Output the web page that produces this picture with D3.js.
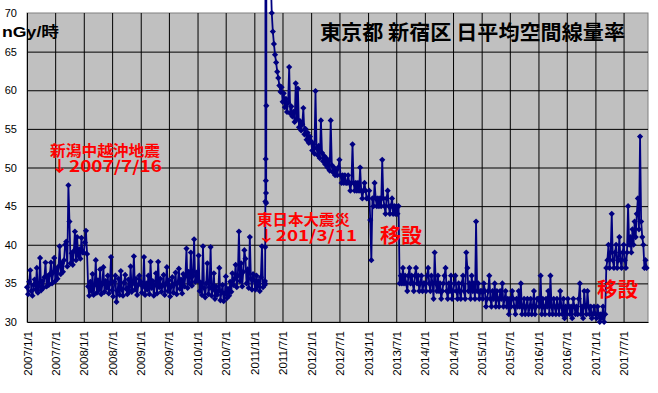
<!DOCTYPE html>
<head>
    <meta charset="utf-8">
    <style>
        body { margin: 0; background: #fff; }
    </style>
</head>
<body>
    <div id="graph"></div>
    <script src="https://d3js.org/d3.v7.min.js"></script>
    <script>
        // 週ごとの読み取り値 (nGy/時)。各年 1/1 から 7 日おき
        const v2007 = [34.5, 33.6, 35.2, 36.7, 34.0, 33.4, 34.8, 35.5, 34.2, 37.0, 33.8, 34.6, 38.3, 34.1, 35.3, 34.4, 35.8, 37.7, 34.6, 35.9, 34.8, 36.2, 37.7, 35.0, 36.4, 38.3, 35.3, 36.8, 35.6, 37.2, 39.8, 36.2, 37.6, 36.5, 38.0, 40.0, 40.4, 37.2, 47.7, 43.0, 37.6, 38.9, 37.4, 39.2, 41.7, 38.0, 41.0, 38.6, 39.4, 38.2, 40.9, 39.0];
        const v2008 = [39.0, 40.3, 41.8, 38.8, 34.6, 33.4, 35.2, 34.0, 36.2, 33.5, 34.8, 38.0, 33.8, 35.4, 34.2, 36.8, 33.6, 34.9, 37.1, 33.9, 35.3, 34.4, 36.0, 33.7, 35.0, 38.4, 34.1, 33.3, 35.2, 36.0, 32.6, 34.0, 35.6, 33.5, 36.6, 34.2, 33.4, 35.1, 36.1, 34.3, 33.6, 35.5, 34.0, 37.2, 33.9, 35.0, 38.5, 34.2, 35.6, 33.5, 34.8, 36.0];
        const v2009 = [35.2, 33.8, 34.6, 38.4, 33.5, 35.0, 34.2, 36.0, 33.6, 37.8, 34.4, 35.3, 33.4, 34.8, 36.3, 33.7, 37.8, 34.5, 35.6, 33.9, 34.7, 36.1, 33.5, 34.9, 37.1, 34.0, 35.4, 33.3, 34.6, 35.8, 33.8, 34.9, 36.4, 33.6, 35.1, 36.9, 34.3, 35.5, 33.7, 36.2, 34.6, 35.9, 39.5, 34.4, 36.5, 35.0, 39.0, 34.7, 36.0, 40.7, 35.2, 36.4];
        const v2010 = [35.4, 38.6, 34.0, 35.1, 33.5, 39.8, 34.4, 33.2, 35.0, 37.6, 33.6, 34.5, 39.7, 33.4, 34.2, 36.3, 33.0, 34.6, 33.5, 34.0, 37.0, 32.8, 33.9, 34.8, 32.7, 33.6, 35.9, 33.1, 34.3, 33.4, 35.2, 33.9, 36.3, 34.8, 35.6, 37.4, 34.5, 36.0, 41.7, 35.3, 37.6, 34.6, 36.5, 39.3, 38.2, 35.0, 36.8, 34.4, 41.0, 35.6, 34.2, 36.2];
        const v2011a = [35.4, 34.2, 36.0, 34.6, 35.3, 34.0, 35.8, 39.8, 34.5, 35.0];
        // 東日本大震災前後は日ごと (2011/3/9 から)
        const quakeDaily = [34.8, 35.3, 35.0, 39.7, 45.6, 130, 51.1, 48.3, 46.7, 45.4, 58, 160, 220, 170, 140, 125, 112];
        // 2011/3/26 から 7 日おき
        const v2011b = [105, 92, 82, 75, 70.0, 67.6, 66.0, 64.6, 63.6, 62.4, 61.6, 60.6, 59.8, 60.4, 58.5, 59.6, 57.8, 58.9, 57.2, 58.4, 63.0, 57.0, 57.9, 56.6, 57.2, 55.9, 60.9, 56.3, 60.2, 55.2, 56.0, 54.8, 55.6, 57.7, 54.3, 55.0, 53.6, 54.5, 53.2, 54.0];
        const v2012 = [53.4, 52.2, 53.0, 51.8, 59.9, 52.5, 51.6, 52.8, 51.2, 56.1, 51.9, 50.8, 51.5, 50.4, 51.2, 50.0, 50.8, 49.6, 56.1, 50.3, 49.4, 50.0, 49, 49.7, 49, 50, 51, 49, 48, 49, 48, 49, 48, 48, 49, 48, 47, 48, 53, 48, 47, 48, 47, 48, 47, 50, 47, 46, 47, 48, 47, 46];
        const v2013 = [46, 47, 43.2, 38, 46, 45, 48, 46, 45, 46, 45, 46, 45, 51, 46, 45, 44, 46, 47, 45, 44, 45, 46, 44, 45, 44, 45, 44, 45, 35, 36, 35, 37, 35, 36, 35, 34, 36, 37, 35, 36, 35, 34, 36, 37, 35, 36, 34, 35, 36, 34, 35];
        const v2014 = [35, 34, 36, 37, 35, 34, 36, 35, 33, 39, 35, 34, 36, 34, 35, 33, 34, 35, 36, 37, 34, 33, 35, 34, 36, 33, 34, 35, 36, 34, 33, 35, 34, 33, 35, 36, 34, 33, 39, 37, 34, 35, 33, 36, 34, 35, 33, 43, 34, 35, 33, 34];
        const v2015 = [34, 33, 35, 34, 32, 33, 34, 36, 33, 32, 34, 33, 35, 32, 34, 33, 32, 34, 33, 35, 32, 33, 34, 32, 33, 31, 33, 32, 34, 33, 32, 31, 33, 32, 34, 32, 35, 31, 32, 33, 31, 32, 33, 31, 32, 33, 31, 32, 34, 31, 32, 33];
        const v2016 = [33, 32, 36, 31, 33, 32, 31, 33, 32, 34, 31, 36, 32, 31, 33, 32, 31, 33, 32, 31, 34, 32, 31, 33, 30.5, 32, 31, 33, 32, 31, 32, 30.5, 33, 32, 31, 32, 31, 33, 35, 31, 32, 30.5, 34, 32, 31, 34, 32, 31, 32, 30.5, 31, 32];
        const v2017 = [31, 30.5, 32, 31, 30, 31, 30.5, 32, 30, 31, 37, 38, 40, 37, 39, 44, 38, 37, 39, 40, 37, 38, 41, 38, 37, 39, 40, 38, 37, 39, 45, 40, 41, 39, 42, 40, 43, 41, 44, 46, 42, 54, 43, 41, 40, 37, 38, 37];

        const yTicks = [30, 35, 40, 45, 50, 55, 60, 65, 70];
        const title = "東京都 新宿区 日平均空間線量率";
        const unitLabel = "nGy/時";

        const WIDTH = 658, HEIGHT = 393;
        const LEFT = 27, RIGHT = 648, TOP = 13, BOTTOM = 322;
        const NAVY = "#000080";

        const parse = d3.utcParse("%Y-%m-%d");
        const chunks = [
            ["2007-01-01", 7, v2007], ["2008-01-01", 7, v2008], ["2009-01-01", 7, v2009],
            ["2010-01-01", 7, v2010], ["2011-01-01", 7, v2011a], ["2011-03-09", 1, quakeDaily],
            ["2011-03-26", 7, v2011b], ["2012-01-01", 7, v2012], ["2013-01-01", 7, v2013],
            ["2014-01-01", 7, v2014], ["2015-01-01", 7, v2015], ["2016-01-01", 7, v2016],
            ["2017-01-01", 7, v2017]
        ];
        const data = chunks.flatMap(([start, step, vals]) =>
            vals.map((v, i) => ({ date: d3.utcDay.offset(parse(start), i * step), value: v })));

        const x = d3.scaleUtc()
            .domain([parse("2007-01-01"), parse("2017-12-05")])
            .range([LEFT, RIGHT]);
        const y = d3.scaleLinear()
            .domain([30, 70])
            .range([BOTTOM, TOP]);

        const svg = d3.select("#graph").append("svg")
            .attr("width", WIDTH).attr("height", HEIGHT)
            .style("display", "block");

        // プロットエリア
        svg.append("rect")
            .attr("x", LEFT).attr("y", TOP)
            .attr("width", RIGHT - LEFT).attr("height", BOTTOM - TOP)
            .attr("fill", "#c0c0c0")
            .attr("stroke", "#808080");

        const xTicks = x.ticks(d3.utcMonth.every(6));
        const fmt = d3.utcFormat("%Y/%-m/%-d");

        // 目盛線
        svg.append("g")
            .attr("transform", `translate(0,${BOTTOM})`)
            .call(d3.axisBottom(x).tickValues(xTicks).tickSize(-(BOTTOM - TOP)).tickFormat(""))
            .call(g => g.select(".domain").remove())
            .selectAll("line").attr("stroke", "#000");
        svg.append("g")
            .attr("transform", `translate(${LEFT},0)`)
            .call(d3.axisLeft(y).tickValues(yTicks.slice(1, -1)).tickSize(-(RIGHT - LEFT)).tickFormat(""))
            .call(g => g.select(".domain").remove())
            .selectAll("line").attr("stroke", "#000");

        // 軸
        svg.append("g")
            .attr("transform", `translate(0,${BOTTOM})`)
            .call(d3.axisBottom(x).tickValues(xTicks).tickSize(0).tickFormat(fmt))
            .call(g => g.select(".domain").attr("stroke", "#000"))
            .selectAll("text")
            .attr("font-family", "'Liberation Sans', Arial, sans-serif")
            .attr("font-size", 11.5)
            .attr("fill", "#000")
            .attr("text-anchor", "end")
            .attr("transform", "rotate(-90)")
            .attr("x", -9).attr("y", 0).attr("dy", "0.35em");

        svg.append("g")
            .attr("transform", `translate(${LEFT},0)`)
            .call(d3.axisLeft(y).tickValues(yTicks).tickSize(0).tickPadding(10))
            .call(g => g.select(".domain").attr("stroke", "#000"))
            .selectAll("text")
            .attr("font-family", "'Liberation Sans', Arial, sans-serif")
            .attr("font-size", 11)
            .attr("fill", "#000");

        // データ
        const line = d3.line().x(d => x(d.date)).y(d => y(d.value));
        svg.append("path")
            .datum(data)
            .attr("d", line)
            .attr("fill", "none")
            .attr("stroke", NAVY)
            .attr("stroke-width", 1.8);

        const r = 3.1;
        svg.append("g")
            .selectAll("path")
            .data(data.filter(d => d.value < 73))
            .join("path")
            .attr("transform", d => `translate(${x(d.date)},${y(d.value)})`)
            .attr("d", `M0,${-r}L${r},0L0,${r}L${-r},0Z`)
            .attr("fill", NAVY);

        // 文字
        const cjk = "'Noto Sans CJK JP', sans-serif";
        svg.append("text")
            .attr("x", 320).attr("y", 40)
            .attr("font-family", cjk).attr("font-weight", "bold").attr("font-size", 20)
            .attr("textLength", 305).attr("lengthAdjust", "spacingAndGlyphs")
            .attr("fill", "#000")
            .text(title);

        svg.append("text")
            .attr("x", 2).attr("y", 37)
            .attr("font-family", "'Liberation Sans', 'Noto Sans CJK JP', sans-serif")
            .attr("font-weight", "bold").attr("font-size", 15)
            .attr("textLength", 57).attr("lengthAdjust", "spacingAndGlyphs")
            .attr("fill", "#000")
            .text(unitLabel);

        const notes = [
            { text: "新潟中越沖地震", x: 50, y: 155.5, size: 15, len: 110 },
            { text: "↓2007/7/16", x: 50, y: 171.5, size: 15.5, len: 112 },
            { text: "東日本大震災", x: 257, y: 225, size: 15, len: 93 },
            { text: "↓201/3/11", x: 257, y: 240.5, size: 15, len: 100 },
            { text: "移設", x: 380, y: 242.5, size: 20, len: 42 },
            { text: "移設", x: 597, y: 297, size: 20, len: 41 }
        ];
        svg.append("g")
            .selectAll("text")
            .data(notes)
            .join("text")
            .attr("x", d => d.x).attr("y", d => d.y)
            .attr("font-family", cjk).attr("font-weight", "bold")
            .attr("font-size", d => d.size)
            .attr("textLength", d => d.len).attr("lengthAdjust", "spacingAndGlyphs")
            .attr("fill", "#ff0000")
            .text(d => d.text);
    </script>
</body>
</html>
